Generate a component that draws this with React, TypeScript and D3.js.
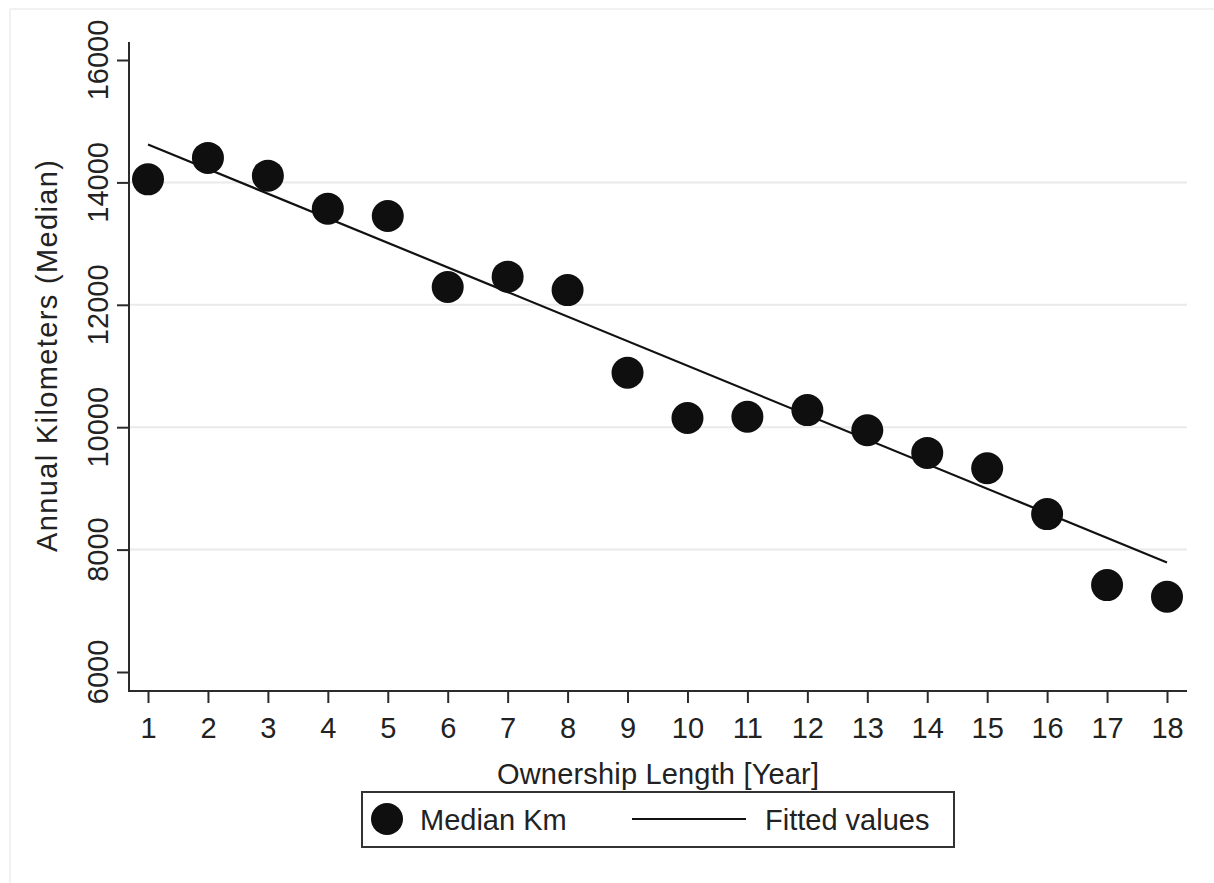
import React, { useEffect, useRef } from 'react';
import * as d3 from 'd3';

const years = [1, 2, 3, 4, 5, 6, 7, 8, 9, 10, 11, 12, 13, 14, 15, 16, 17, 18];
const medianKm = [14050, 14400, 14110, 13570, 13450, 12290, 12460, 12240, 10890, 10150, 10170, 10280, 9950, 9580, 9330, 8580, 7420, 7230];
// fitted line end points
const fitYears = [1, 18];
const fitValues = [14620, 7790];
const yTicks = [6000, 8000, 10000, 12000, 14000, 16000];
const gridTicks = [8000, 10000, 12000, 14000];

export default function App() {
  const chartRef = useRef<SVGSVGElement | null>(null);

  useEffect(() => {
    const svg = d3.select(chartRef.current);
    svg.selectAll('*').remove();

    const font = '"Liberation Sans", Arial, sans-serif';
    const axisColor = '#2b2b2b';
    const plot = { left: 129, right: 1187, top: 42, bottom: 691 };

    const x = d3.scaleLinear().domain([1, 18]).range([148, 1167]);
    const y = d3.scaleLinear().domain([6000, 16000]).range([672, 60]);

    // faint outer frame
    svg.append('line').attr('x1', 10).attr('x2', 1214).attr('y1', 9).attr('y2', 9)
      .attr('stroke', '#f1f1f1').attr('stroke-width', 2);
    svg.append('line').attr('x1', 10).attr('x2', 10).attr('y1', 9).attr('y2', 883)
      .attr('stroke', '#f1f1f1').attr('stroke-width', 2);

    // grid
    svg.append('g')
      .selectAll('line')
      .data(gridTicks)
      .join('line')
      .attr('x1', plot.left)
      .attr('x2', plot.right)
      .attr('y1', d => y(d))
      .attr('y2', d => y(d))
      .attr('stroke', '#eaeaea')
      .attr('stroke-width', 2);

    // y axis
    const yAxis = svg.append('g')
      .attr('transform', `translate(${plot.left},0)`)
      .call(d3.axisLeft(y).tickValues(yTicks).tickSize(12).tickFormat(d3.format('d')));
    yAxis.select('.domain').remove();
    yAxis.selectAll('line').attr('stroke', axisColor).attr('stroke-width', 2);
    yAxis.selectAll('text').remove();
    svg.append('g')
      .selectAll('text')
      .data(yTicks)
      .join('text')
      .attr('transform', d => `translate(108,${y(d)}) rotate(-90)`)
      .attr('text-anchor', 'middle')
      .attr('font-family', font)
      .attr('font-size', 29)
      .attr('fill', '#222')
      .text(d => String(d));

    // x axis
    const xAxis = svg.append('g')
      .attr('transform', `translate(0,${plot.bottom})`)
      .call(d3.axisBottom(x).tickValues(years).tickSize(12).tickFormat(d3.format('d')));
    xAxis.select('.domain').remove();
    xAxis.selectAll('line').attr('stroke', axisColor).attr('stroke-width', 2);
    xAxis.selectAll('text')
      .attr('y', 47)
      .attr('dy', null)
      .attr('font-family', font)
      .attr('font-size', 29)
      .attr('fill', '#222');

    // axis lines
    svg.append('line').attr('x1', plot.left).attr('x2', plot.left)
      .attr('y1', plot.top).attr('y2', plot.bottom + 1)
      .attr('stroke', axisColor).attr('stroke-width', 2);
    svg.append('line').attr('x1', plot.left - 1).attr('x2', plot.right)
      .attr('y1', plot.bottom).attr('y2', plot.bottom)
      .attr('stroke', axisColor).attr('stroke-width', 2);

    // fitted line
    const line = d3.line<number>()
      .x((d, i) => x(fitYears[i]))
      .y(d => y(d));
    svg.append('path')
      .datum(fitValues)
      .attr('d', line)
      .attr('fill', 'none')
      .attr('stroke', '#111')
      .attr('stroke-width', 2.2);

    // points
    svg.append('g')
      .selectAll('circle')
      .data(medianKm)
      .join('circle')
      .attr('cx', (d, i) => x(years[i]))
      .attr('cy', d => y(d))
      .attr('r', 16)
      .attr('fill', '#0f0f0f');

    // axis titles
    svg.append('text')
      .attr('x', 658)
      .attr('y', 784)
      .attr('text-anchor', 'middle')
      .attr('font-family', font)
      .attr('font-size', 29)
      .attr('fill', '#222')
      .attr('textLength', 322)
      .attr('lengthAdjust', 'spacing')
      .text('Ownership Length [Year]');
    svg.append('text')
      .attr('transform', `translate(57,356) rotate(-90)`)
      .attr('text-anchor', 'middle')
      .attr('font-family', font)
      .attr('font-size', 29)
      .attr('fill', '#222')
      .attr('textLength', 392)
      .attr('lengthAdjust', 'spacing')
      .text('Annual Kilometers (Median)');

    // legend
    const legend = svg.append('g');
    legend.append('rect')
      .attr('x', 362).attr('y', 792).attr('width', 592).attr('height', 55)
      .attr('fill', 'white').attr('stroke', '#333').attr('stroke-width', 2);
    legend.append('circle').attr('cx', 387).attr('cy', 819).attr('r', 16).attr('fill', '#0f0f0f');
    legend.append('text').attr('x', 420).attr('y', 830)
      .attr('font-family', font).attr('font-size', 29).attr('fill', '#222')
      .text('Median Km');
    legend.append('line').attr('x1', 632).attr('x2', 746).attr('y1', 819).attr('y2', 819)
      .attr('stroke', '#111').attr('stroke-width', 2.2);
    legend.append('text').attr('x', 765).attr('y', 830)
      .attr('font-family', font).attr('font-size', 29).attr('fill', '#222')
      .text('Fitted values');
  }, []);

  return (
    <div style={{ position: 'absolute', left: 0, top: 0, background: 'white' }}>
      <svg ref={chartRef} width={1214} height={883}></svg>
    </div>
  );
}
